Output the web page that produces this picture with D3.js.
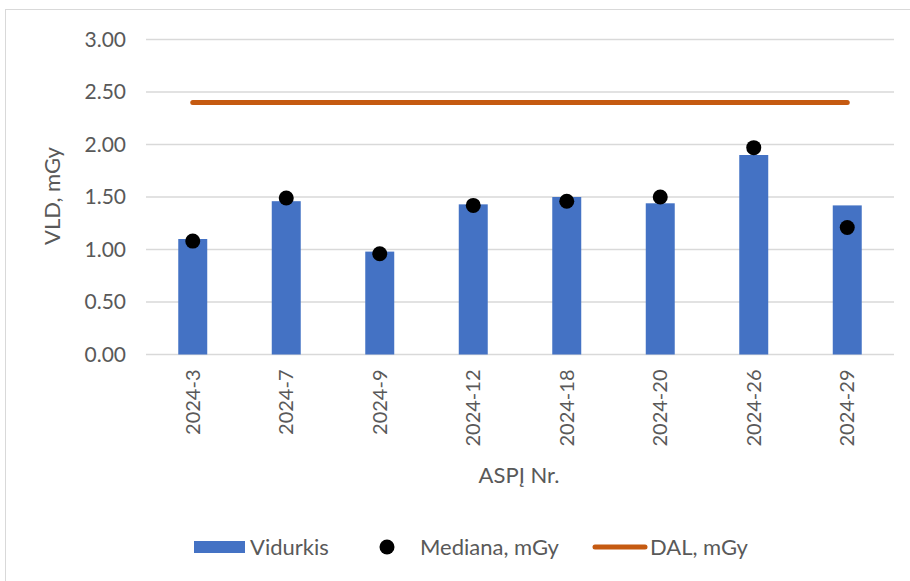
<!DOCTYPE html>
<html>
<head>
<meta charset="utf-8">
<script src="https://cdn.jsdelivr.net/npm/d3@7"></script>
<style>
  body { margin: 0; background: #fff; }
  svg { display: block; font-family: Lato, "Open Sans", sans-serif; }
</style>
</head>
<body>
<div id="chart"></div>
<script>
// chart data
const categories = ["2024-3", "2024-7", "2024-9", "2024-12", "2024-18", "2024-20", "2024-26", "2024-29"];
const vidurkis = [1.10, 1.46, 0.98, 1.43, 1.50, 1.44, 1.90, 1.42];
const mediana = [1.08, 1.49, 0.96, 1.42, 1.46, 1.50, 1.97, 1.21];
const dal = [2.40, 2.40, 2.40, 2.40, 2.40, 2.40, 2.40, 2.40];
const yTicks = [0, 0.5, 1, 1.5, 2, 2.5, 3];
const legendLabels = ["Vidurkis", "Mediana, mGy", "DAL, mGy"];

const W = 910, H = 581;
const textColor = "#595959";
const barColor = "#4472C4";
const dalColor = "#C55A11";
const gridColor = "#d9d9d9";

const svg = d3.select("#chart")
  .append("svg")
  .attr("width", W)
  .attr("height", H);

// outer frame of the chart area
svg.append("rect")
  .attr("x", 5.5)
  .attr("y", 9.5)
  .attr("width", W + 20)
  .attr("height", H + 20)
  .attr("fill", "#fff")
  .attr("stroke", gridColor)
  .attr("stroke-width", 1);

const x = d3.scaleBand()
  .domain(categories)
  .range([146, 894])
  .paddingInner(0.69)
  .paddingOuter(0.345);

const y = d3.scaleLinear()
  .domain([0, 3])
  .range([354.5, 39.5]);

// gridlines
svg.append("g")
  .selectAll("line")
  .data(yTicks)
  .join("line")
  .attr("x1", 146)
  .attr("x2", 894)
  .attr("y1", d => y(d))
  .attr("y2", d => y(d))
  .attr("stroke", gridColor)
  .attr("stroke-width", 1.3);

// y axis labels
const yAxis = svg.append("g")
  .attr("transform", "translate(126,0)")
  .call(d3.axisLeft(y).tickValues(yTicks).tickFormat(d3.format(".2f")).tickSize(0).tickPadding(0));
yAxis.select(".domain").remove();
yAxis.selectAll("text")
  .attr("fill", textColor)
  .attr("font-size", 21)
  .attr("font-family", "Lato, sans-serif");

// bars
svg.append("g")
  .selectAll("rect")
  .data(vidurkis)
  .join("rect")
  .attr("x", (d, i) => x(categories[i]))
  .attr("width", x.bandwidth())
  .attr("y", d => y(d))
  .attr("height", d => y(0) - y(d))
  .attr("fill", barColor);

// DAL line
const line = d3.line()
  .x((d, i) => x(categories[i]) + x.bandwidth() / 2)
  .y(d => y(d));

svg.append("path")
  .datum(dal)
  .attr("fill", "none")
  .attr("stroke", dalColor)
  .attr("stroke-width", 5)
  .attr("stroke-linecap", "round")
  .attr("d", line);

// median markers
svg.append("g")
  .selectAll("circle")
  .data(mediana)
  .join("circle")
  .attr("cx", (d, i) => x(categories[i]) + x.bandwidth() / 2)
  .attr("cy", d => y(d))
  .attr("r", 7.5)
  .attr("fill", "#000");

// x axis labels (rotated)
const xAxis = svg.append("g")
  .attr("transform", `translate(0,${y(0)})`)
  .call(d3.axisBottom(x).tickSize(0).tickPadding(0));
xAxis.select(".domain").remove();
xAxis.selectAll("text")
  .attr("fill", textColor)
  .attr("font-size", 20)
  .attr("font-family", "Lato, sans-serif")
  .attr("text-anchor", "end")
  .attr("transform", "rotate(-90)")
  .attr("x", -15)
  .attr("y", 0)
  .attr("dy", "0.35em");

// axis titles
svg.append("text")
  .attr("transform", "translate(60,196) rotate(-90)")
  .attr("text-anchor", "middle")
  .attr("fill", textColor)
  .attr("font-size", 22)
  .text("VLD, mGy");

svg.append("text")
  .attr("x", 519)
  .attr("y", 483)
  .attr("text-anchor", "middle")
  .attr("fill", textColor)
  .attr("font-size", 22)
  .text("ASPĮ Nr.");

// legend
const legend = svg.append("g").attr("font-size", 22).attr("fill", textColor);
const ly = 547;

legend.append("rect")
  .attr("x", 194).attr("y", ly - 6)
  .attr("width", 51).attr("height", 12)
  .attr("fill", barColor);
legend.append("text")
  .attr("x", 250).attr("y", ly).attr("dy", "0.35em")
  .text(legendLabels[0]);

legend.append("circle")
  .attr("cx", 387).attr("cy", ly).attr("r", 7.5)
  .attr("fill", "#000");
legend.append("text")
  .attr("x", 420).attr("y", ly).attr("dy", "0.35em")
  .text(legendLabels[1]);

legend.append("line")
  .attr("x1", 595).attr("x2", 645)
  .attr("y1", ly).attr("y2", ly)
  .attr("stroke", dalColor)
  .attr("stroke-width", 5)
  .attr("stroke-linecap", "round");
legend.append("text")
  .attr("x", 650).attr("y", ly).attr("dy", "0.35em")
  .text(legendLabels[2]);
</script>
</body>
</html>
